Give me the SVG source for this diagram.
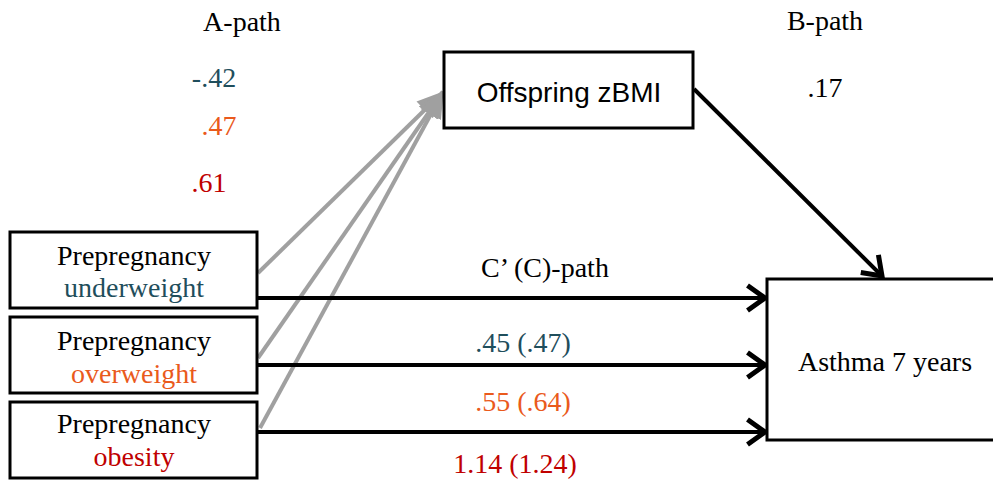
<svg xmlns="http://www.w3.org/2000/svg" width="993" height="480" viewBox="0 0 993 480">
<style>
.box{fill:#fff;stroke:#000;stroke-width:3}
.t{font-family:"Liberation Serif","Times New Roman",serif;font-size:28px;fill:#000;text-anchor:middle}
.s{font-family:"Liberation Sans",Arial,sans-serif;font-size:28px;fill:#000;text-anchor:middle}
.blue{fill:#1f4e5c}.orange{fill:#ea5a1c}.red{fill:#c00000}
.blk{stroke:#000;stroke-width:4;fill:none}
.gry{stroke:#a0a0a0;stroke-width:4;fill:none}
</style>
<defs>
<marker id="open" markerUnits="userSpaceOnUse" markerWidth="30" markerHeight="30" refX="20" refY="12" orient="auto" viewBox="0 0 24 24">
<polyline points="6,2 20,12 6,22" fill="none" stroke="#000" stroke-width="4"/>
</marker>
<marker id="fill" markerUnits="userSpaceOnUse" markerWidth="28" markerHeight="28" refX="22" refY="12" orient="auto" viewBox="0 0 24 24">
<polygon points="0,2 23,12 0,22" fill="#a0a0a0"/>
</marker>
</defs>
<rect width="993" height="480" fill="#fff"/>
<g id="labels">
<text class="t" x="242" y="31">A-path</text>
<text class="t blue" x="214" y="87">-.42</text>
<text class="t orange" x="219" y="135">.47</text>
<text class="t red" x="209" y="192">.61</text>
<text class="t" x="825" y="30">B-path</text>
<text class="t" x="825" y="97">.17</text>
<text class="t" x="545" y="277">C’ (C)-path</text>
<text class="t blue" x="523" y="352">.45 (.47)</text>
<text class="t orange" x="523" y="411">.55 (.64)</text>
<text class="t red" x="515" y="473">1.14 (1.24)</text>
</g>
<g id="connectors">
<line class="gry" x1="258" y1="273" x2="443" y2="92" marker-end="url(#fill)"/>
<line class="gry" x1="258" y1="358" x2="443" y2="92" marker-end="url(#fill)"/>
<line class="gry" x1="260" y1="428" x2="443" y2="92" marker-end="url(#fill)"/>
<line class="blk" x1="257" y1="298" x2="765" y2="298" marker-end="url(#open)"/>
<line class="blk" x1="257" y1="365" x2="765" y2="365" marker-end="url(#open)"/>
<line class="blk" x1="257" y1="432" x2="765" y2="432" marker-end="url(#open)"/>
<line class="blk" x1="694" y1="89" x2="882" y2="276" marker-end="url(#open)"/>
</g>
<g id="underweight">
<rect class="box" x="10" y="232" width="247" height="76"/>
<text class="t" x="134" y="265">Prepregnancy</text>
<text class="t blue" x="134" y="297">underweight</text>
</g>
<g id="overweight">
<rect class="box" x="10" y="317" width="247" height="76"/>
<text class="t" x="134" y="350">Prepregnancy</text>
<text class="t orange" x="134" y="383">overweight</text>
</g>
<g id="obesity">
<rect class="box" x="10" y="402" width="247" height="76"/>
<text class="t" x="134" y="433">Prepregnancy</text>
<text class="t red" x="134" y="466">obesity</text>
</g>
<g id="zbmi">
<rect class="box" x="444" y="52" width="249" height="76"/>
<text class="s" x="569" y="102">Offspring zBMI</text>
</g>
<g id="asthma">
<rect class="box" x="767" y="279" width="240" height="161"/>
<text class="t" x="885" y="371">Asthma 7 years</text>
</g>
</svg>
